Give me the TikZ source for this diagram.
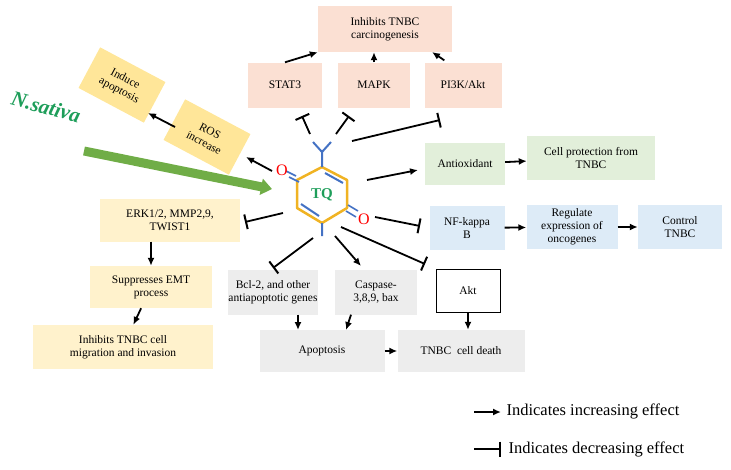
\documentclass[tikz,border=0pt]{standalone}
\usepackage{fontspec}
\setmainfont{Liberation Serif}
\usetikzlibrary{arrows.meta}
\definecolor{peach}{HTML}{FBE0D3}
\definecolor{gr}{HTML}{E2EFDA}
\definecolor{bl}{HTML}{DDEBF7}
\definecolor{ye}{HTML}{FFF2CC}
\definecolor{ye2}{HTML}{FFE699}
\definecolor{gy}{HTML}{EDEDED}
\definecolor{tqg}{HTML}{1E9E5A}
\definecolor{hexy}{HTML}{F0B323}
\definecolor{hexb}{HTML}{4472C4}
\definecolor{nsg}{HTML}{70AD47}
\begin{document}
\begin{tikzpicture}[x=1pt,y=-1pt,font=\fontsize{11.5}{13}\selectfont,
 box/.style={draw=none,align=center,inner sep=2pt},
 inc/.style={-{Latex[length=8pt,width=7pt]},line width=1.8pt},
 dec/.style={-{Bar[width=15pt,line width=2pt]},line width=1.8pt}]
\useasboundingbox (0,0) rectangle (731,469);
% boxes
\node[box,fill=peach,minimum width=134,minimum height=46] (inh) at (385,29) {Inhibits TNBC\\carcinogenesis};
\node[box,fill=peach,minimum width=74,minimum height=45] (stat) at (285,85) {STAT3};
\node[box,fill=peach,minimum width=72,minimum height=45] (mapk) at (374,85) {MAPK};
\node[box,fill=peach,minimum width=77,minimum height=45] (pi3k) at (463,85) {PI3K/Akt};
\begin{scope}[y=1pt]
\node[box,fill=ye2,minimum width=74,minimum height=46,rotate=-28] (ind) at (122,-85) {Induce\\apoptosis};
\node[box,fill=ye2,minimum width=74,minimum height=46,rotate=-28] (ros) at (207,-137) {ROS\\increase};
\end{scope}
\node[box,fill=gr,minimum width=80,minimum height=42] (anti) at (465,164) {Antioxidant};
\node[box,fill=gr,minimum width=128,minimum height=44] (cell) at (591,158) {Cell protection from\\TNBC};
\node[box,fill=bl,minimum width=75,minimum height=44] (nf) at (467,228) {NF-kappa\\B};
\node[box,fill=bl,minimum width=91,minimum height=44] (reg) at (572,227) {Regulate\\expression of\\oncogenes};
\node[box,fill=bl,minimum width=84,minimum height=44] (ctl) at (680,227) {Control\\TNBC};
\node[box,fill=ye,minimum width=140,minimum height=43] (erk) at (170,220) {ERK1/2, MMP2,9,\\TWIST1};
\node[box,fill=ye,minimum width=122,minimum height=42] (emt) at (151,287) {Suppresses EMT\\process};
\node[box,fill=ye,minimum width=180,minimum height=44] (mig) at (123,347) {Inhibits TNBC cell\\migration and invasion};
\node[box,fill=gy,minimum width=90,minimum height=45,inner sep=0pt] (bcl) at (273,292) {Bcl-2, and other\\antiapoptotic genes};
\node[box,fill=gy,minimum width=82,minimum height=45] (casp) at (376,292) {Caspase-\\3,8,9, bax};
\node[box,draw=black,fill=white,minimum width=64,minimum height=43] (akt) at (468,291) {Akt};
\node[box,fill=gy,minimum width=125,minimum height=42] (apo) at (322,351) {Apoptosis};
\node[box,fill=gy,minimum width=127,minimum height=42] (death) at (461,351) {TNBC\ \ cell death};
% TQ molecule
\coordinate (v1) at (322,167); \coordinate (v2) at (347,180); \coordinate (v3) at (347,208);
\coordinate (v4) at (322,223); \coordinate (v5) at (297,208); \coordinate (v6) at (297,180);
\draw[hexy,line width=2.5pt,line join=round] (v1)--(v2)--(v3)--(v4)--(v5)--(v6)--cycle;
\draw[hexb,line width=2pt] (325,173)--(343,183) (301,204)--(319,216);
\draw[hexb,line width=2pt] (v1)--(322,152) (322,152)--(313,142) (322,152)--(331,142) (v4)--(322,236);
\draw[hexb,line width=1.6pt] (296,176)--(286,171) (299,182)--(289,177);
\draw[hexb,line width=1.6pt] (348,205)--(358,211) (346,211)--(356,217);
\node[text=red,font=\fontsize{16}{16}\selectfont,inner sep=0] (o1) at (282,170) {O};
\node[text=red,font=\fontsize{16}{16}\selectfont,inner sep=0] (o2) at (364,219) {O};
\node[text=tqg,font=\fontsize{15}{15}\selectfont\bfseries,inner sep=0] (tq) at (322,195) {TQ};
% N. sativa
\begin{scope}[y=1pt]
\node[text=tqg,font=\fontsize{21}{21}\selectfont\bfseries\itshape,rotate=-15] (ns) at (46,-107) {N.sativa};
\end{scope}
\coordinate (nsa) at (84,151); \coordinate (nsb) at (272,189);
\draw[-{Triangle[length=11pt,width=16pt]},line width=9pt,nsg] (nsa)--(nsb);
% connectors from TQ
\coordinate (t1) at (310,134); \coordinate (t2) at (336,134); \coordinate (t3) at (352,141);
\coordinate (t4) at (283,213); \coordinate (t5) at (375,217); \coordinate (t6) at (313,238);
\coordinate (t7) at (341,227); \coordinate (t8) at (272,171); \coordinate (t9) at (367,180);
\coordinate (t10) at (335,236);
\draw[dec] (t1)--(302,116);
\draw[dec] (t2)--(349,116);
\draw[dec] (t3)--(440,120);
\draw[dec] (t4)--(245,222);
\draw[dec] (t5)--(420,226);
\draw[dec] (t6)--(273,268);
\draw[dec] (t7)--(425,264);
\draw[inc] (t8)--(246,157);
\draw[inc] (t9)--(418,170);
\draw[inc] (t10)--(361,266);
% box connectors
\draw[inc] (stat.north)--(inh.south west);
\draw[inc] (mapk.north)--(mapk.north|-inh.south);
\draw[inc] (pi3k.north west)++(20,-2)--(432,52);
\draw[inc] (ros)++(-32,-10) -- (148,113);
\draw[inc] (anti)--(cell);
\draw[inc] (nf)--(reg);
\draw[inc] (reg)--(ctl);
\draw[inc] (erk.south-|emt.north)--(emt.north);
\draw[inc] (emt)--(mig);
\draw[inc] (bcl.south)++(25,0)--(298,330);
\draw[inc] (casp.south)++(-25,0)--(346,330);
\draw[inc] (apo)--(death);
\draw[inc] (akt)--(akt|-death.north);
% legend
\coordinate (l1) at (474,412); \coordinate (l2) at (501,412);
\coordinate (l3) at (474,449); \coordinate (l4) at (501,449);
\draw[inc] (l1)--(l2);
\draw[dec] (l3)--(l4);
\node[anchor=west,font=\fontsize{16.5}{16.5}\selectfont] (lg1) at (503,411) {Indicates increasing effect};
\node[anchor=west,font=\fontsize{16.5}{16.5}\selectfont] (lg2) at (505,449) {Indicates decreasing effect};
\end{tikzpicture}
\end{document}
